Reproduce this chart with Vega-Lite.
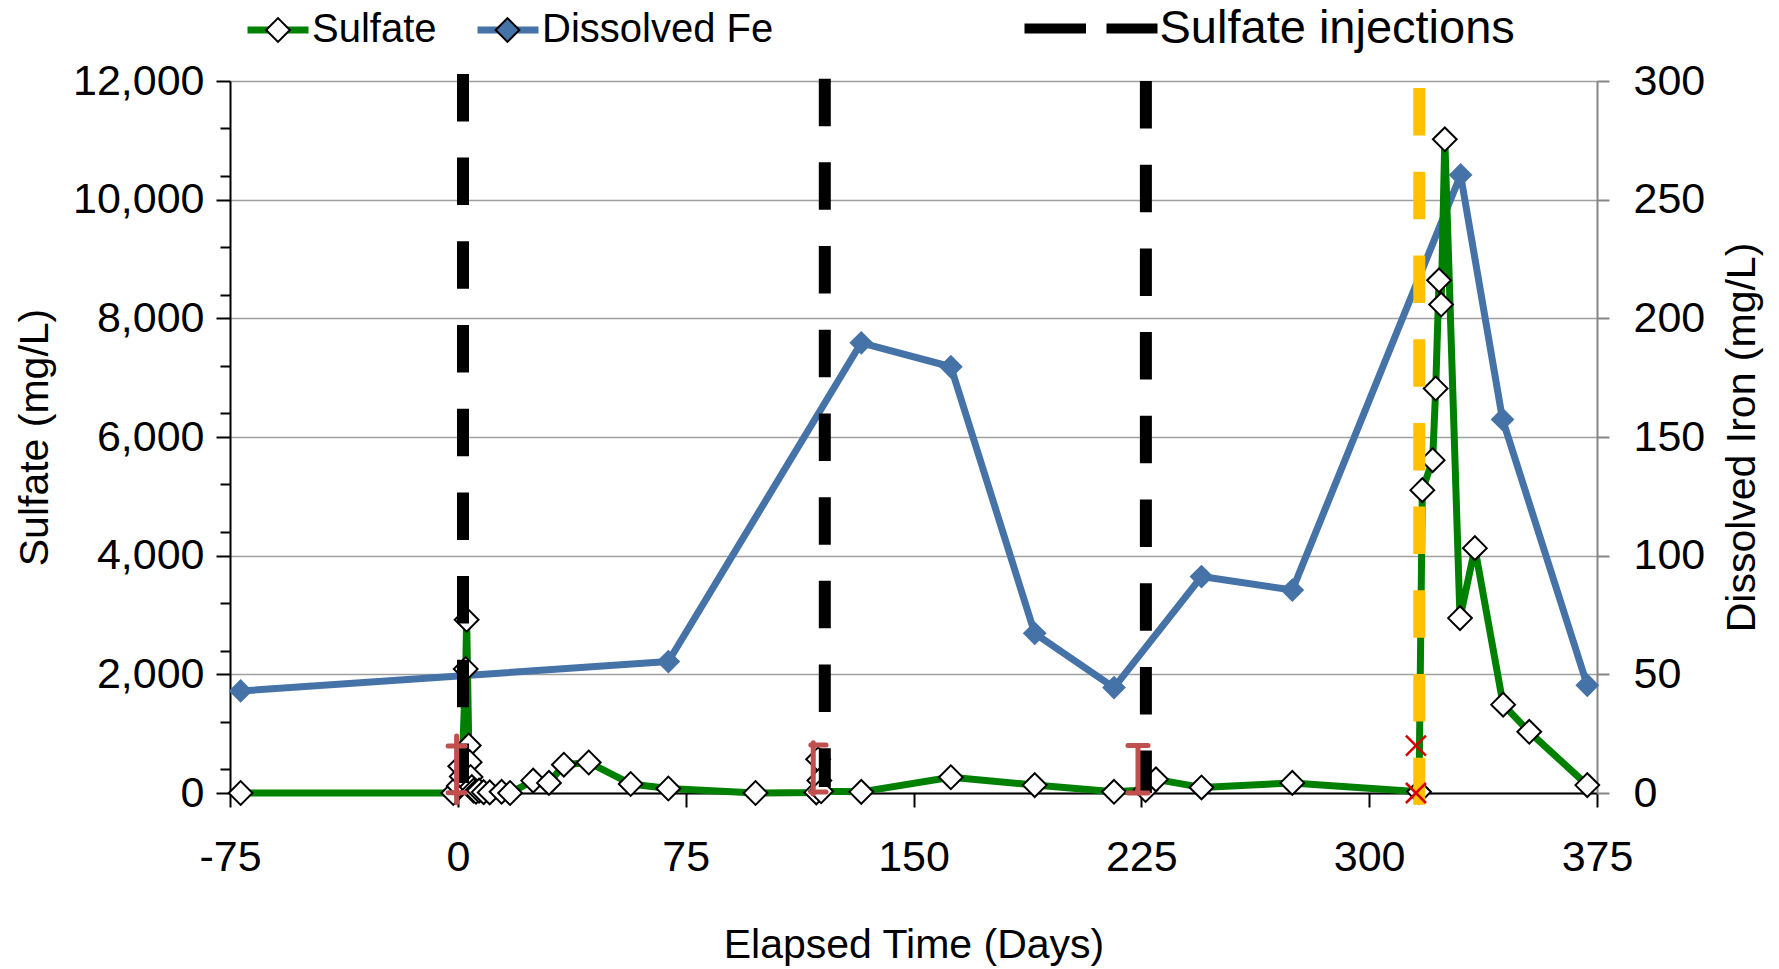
{
  "$schema": "https://vega.github.io/schema/vega-lite/v6.json",
  "width": 1367,
  "height": 712,
  "autosize": "none",
  "padding": {"left": 230, "top": 81, "right": 182, "bottom": 176},
  "background": "white",
  "config": {
    "view": {"stroke": null},
    "font": "Liberation Sans",
    "axis": {
      "labelFont": "Liberation Sans",
      "titleFont": "Liberation Sans",
      "labelColor": "black",
      "titleColor": "black",
      "titleFontWeight": "normal",
      "labelFontSize": 43,
      "titleFontSize": 41,
      "labelOverlap": false,
      "labelFlush": false
    }
  },
  "datasets": {
    "chem": [
      {"day": -71.5, "value": 0, "series": "Sulfate"},
      {"day": -1.5, "value": 0, "series": "Sulfate"},
      {"day": 0.3, "value": 120, "series": "Sulfate"},
      {"day": 0.8, "value": 450, "series": "Sulfate"},
      {"day": 1.3, "value": 280, "series": "Sulfate"},
      {"day": 2.6, "value": 2090, "series": "Sulfate"},
      {"day": 2.9, "value": 2920, "series": "Sulfate"},
      {"day": 3.6, "value": 800, "series": "Sulfate"},
      {"day": 3.9, "value": 520, "series": "Sulfate"},
      {"day": 4.2, "value": 270, "series": "Sulfate"},
      {"day": 4.6, "value": 100, "series": "Sulfate"},
      {"day": 5.2, "value": 40, "series": "Sulfate"},
      {"day": 6.0, "value": 20, "series": "Sulfate"},
      {"day": 7.0, "value": 40, "series": "Sulfate"},
      {"day": 8.5, "value": 15, "series": "Sulfate"},
      {"day": 10.5, "value": 10, "series": "Sulfate"},
      {"day": 14.4, "value": 20, "series": "Sulfate"},
      {"day": 17.2, "value": 0, "series": "Sulfate"},
      {"day": 24.8, "value": 209, "series": "Sulfate"},
      {"day": 30.0, "value": 170, "series": "Sulfate"},
      {"day": 34.9, "value": 477, "series": "Sulfate"},
      {"day": 43.1, "value": 514, "series": "Sulfate"},
      {"day": 56.9, "value": 152, "series": "Sulfate"},
      {"day": 69.3, "value": 76, "series": "Sulfate"},
      {"day": 98.0, "value": 0, "series": "Sulfate"},
      {"day": 118.0, "value": 10, "series": "Sulfate"},
      {"day": 118.6, "value": 570, "series": "Sulfate"},
      {"day": 119.0, "value": 210, "series": "Sulfate"},
      {"day": 119.6, "value": 30, "series": "Sulfate"},
      {"day": 132.8, "value": 19, "series": "Sulfate"},
      {"day": 162.3, "value": 266, "series": "Sulfate"},
      {"day": 189.9, "value": 133, "series": "Sulfate"},
      {"day": 216.0, "value": 20, "series": "Sulfate"},
      {"day": 226.4, "value": 50, "series": "Sulfate"},
      {"day": 229.8, "value": 230, "series": "Sulfate"},
      {"day": 244.8, "value": 94, "series": "Sulfate"},
      {"day": 274.7, "value": 170, "series": "Sulfate"},
      {"day": 316.4, "value": 20, "series": "Sulfate"},
      {"day": 317.5, "value": 5104, "series": "Sulfate"},
      {"day": 320.9, "value": 5610, "series": "Sulfate"},
      {"day": 321.9, "value": 6817, "series": "Sulfate"},
      {"day": 323.0, "value": 8641, "series": "Sulfate"},
      {"day": 323.7, "value": 8232, "series": "Sulfate"},
      {"day": 324.9, "value": 11017, "series": "Sulfate"},
      {"day": 329.9, "value": 2948, "series": "Sulfate"},
      {"day": 334.8, "value": 4127, "series": "Sulfate"},
      {"day": 344.1, "value": 1489, "series": "Sulfate"},
      {"day": 352.7, "value": 1031, "series": "Sulfate"},
      {"day": 371.8, "value": 133, "series": "Sulfate"},
      {"day": -71.5, "value": 43.0, "series": "Dissolved Fe"},
      {"day": 69.3, "value": 55.4, "series": "Dissolved Fe"},
      {"day": 132.8, "value": 189.7, "series": "Dissolved Fe"},
      {"day": 162.3, "value": 179.6, "series": "Dissolved Fe"},
      {"day": 189.9, "value": 67.3, "series": "Dissolved Fe"},
      {"day": 216.0, "value": 44.4, "series": "Dissolved Fe"},
      {"day": 244.8, "value": 91.2, "series": "Dissolved Fe"},
      {"day": 274.7, "value": 85.5, "series": "Dissolved Fe"},
      {"day": 330.1, "value": 260.4, "series": "Dissolved Fe"},
      {"day": 343.9, "value": 157.4, "series": "Dissolved Fe"},
      {"day": 371.8, "value": 45.4, "series": "Dissolved Fe"}
    ],
    "events": [
      {"day": 1.7, "top": 12120, "bottom": 170, "kind": "Sulfate injections"},
      {"day": 120.8, "top": 12040, "bottom": 100, "kind": "Sulfate injections"},
      {"day": 226.5, "top": 12000, "bottom": 0, "kind": "Sulfate injections"},
      {"day": 316.5, "top": 11880, "bottom": -200, "kind": "Final injection"}
    ],
    "bars": [
      {"day": -0.4, "lo": -165, "hi": 960},
      {"day": 117.0, "lo": -17, "hi": 847},
      {"day": 223.9, "lo": 0, "hi": 802}
    ],
    "caps": [
      {"from": -3.2, "to": 2.4, "value": 792},
      {"from": -3.2, "to": 2.4, "value": 5},
      {"from": 116.2, "to": 121.2, "value": 808},
      {"from": 116.2, "to": 121.2, "value": 17},
      {"from": 220.6, "to": 227.2, "value": 802},
      {"from": 220.6, "to": 227.2, "value": 0}
    ],
    "crosses": [
      {"day": 315.4, "value": 798},
      {"day": 315.4, "value": 0}
    ]
  },
  "layer": [
    {
      "layer": [
        {
          "data": {"name": "chem"},
          "transform": [{"filter": "datum.series === 'Dissolved Fe'"}],
          "mark": {"type": "line", "strokeWidth": 7, "strokeJoin": "round"},
          "encoding": {
            "x": {
              "field": "day", "type": "quantitative",
              "scale": {"domain": [-75, 375], "nice": false, "zero": false},
              "axis": {
                "values": [-75, 0, 75, 150, 225, 300, 375],
                "labelExpr": "'' + datum.value",
                "domainColor": "black", "domainWidth": 2,
                "tickColor": "black", "tickWidth": 2, "tickSize": 14,
                "labelPadding": 29, "grid": false, "labelOverlap": false,
                "title": "Elapsed Time (Days)", "titlePadding": 46
              }
            },
            "y": {
              "field": "value", "type": "quantitative",
              "scale": {"domain": [0, 300], "nice": false, "zero": false},
              "axis": {
                "orient": "right",
                "values": [0, 50, 100, 150, 200, 250, 300],
                "grid": false, "labelOverlap": false,
                "domainColor": "#868686", "domainWidth": 2,
                "tickColor": "#868686", "tickWidth": 2, "tickSize": 12,
                "labelPadding": 24,
                "title": "Dissolved Iron (mg/L)",
                "titleAngle": 270, "titleBaseline": "top", "titlePadding": 18
              }
            },
            "stroke": {
              "field": "series", "type": "nominal",
              "scale": {"range": ["#4572A7", "#008000"]},
              "legend": {
                "orient": "none", "legendX": 14, "legendY": -85,
                "direction": "horizontal", "title": null,
                "values": ["Sulfate", "Dissolved Fe"],
                "symbolType": "stroke", "symbolSize": 3721, "symbolStrokeWidth": 7,
                "labelFontSize": 40, "labelFont": "Liberation Sans", "labelColor": "black",
                "labelOffset": 0, "columnPadding": 26, "padding": 0, "labelLimit": 0,
                "zindex": 0
              }
            }
          }
        },
        {
          "data": {"name": "chem"},
          "transform": [{"filter": "datum.series === 'Dissolved Fe'"}],
          "mark": {"type": "point", "shape": "M-0.36,0L0,-0.36L0.36,0L0,0.36Z", "size": 4356, "filled": true, "stroke": "black", "strokeWidth": 2, "opacity": 1},
          "encoding": {
            "x": {"field": "day", "type": "quantitative", "scale": {"domain": [-75, 375], "nice": false, "zero": false}},
            "y": {"field": "value", "type": "quantitative", "scale": {"domain": [0, 300], "nice": false, "zero": false}},
            "fill": {
              "field": "series", "type": "nominal",
              "scale": {"domain": ["Sulfate", "Dissolved Fe"], "range": ["white", "#4572A7"]},
              "legend": {
                "orient": "none", "legendX": 14, "legendY": -85,
                "direction": "horizontal", "title": null,
                "symbolType": "M-0.36,0L0,-0.36L0.36,0L0,0.36Z", "symbolSize": 4356, "symbolStrokeWidth": 2,
                "labelFontSize": 40, "labelExpr": "''",
                "labelOffset": 0, "columnPadding": 161.5, "padding": 0, "labelLimit": 0,
                "zindex": 1
              }
            },
            "strokeOpacity": {
              "field": "series", "type": "nominal",
              "scale": {"domain": ["Sulfate", "Dissolved Fe"], "range": [1, 0]},
              "legend": {
                "orient": "none", "legendX": 14, "legendY": -85,
                "direction": "horizontal", "title": null,
                "symbolType": "M-0.36,0L0,-0.36L0.36,0L0,0.36Z", "symbolSize": 4356, "symbolStrokeWidth": 2,
                "labelFontSize": 40, "labelExpr": "''",
                "labelOffset": 0, "columnPadding": 161.5, "padding": 0, "labelLimit": 0,
                "zindex": 1
              }
            }
          }
        }
      ]
    },
    {
      "layer": [
        {
          "data": {"name": "chem"},
          "transform": [{"filter": "datum.series === 'Sulfate'"}],
          "mark": {"type": "line", "strokeWidth": 7, "strokeJoin": "round"},
          "encoding": {
            "x": {"field": "day", "type": "quantitative", "scale": {"domain": [-75, 375], "nice": false, "zero": false}},
            "y": {
              "field": "value", "type": "quantitative",
              "scale": {"domain": [0, 12000], "nice": false, "zero": false},
              "axis": {
                "orient": "left",
                "values": [0, 2000, 4000, 6000, 8000, 10000, 12000],
                "format": ",d",
                "domainColor": "black", "domainWidth": 2,
                "tickColor": "black", "tickWidth": 2, "tickSize": 14,
                "labelPadding": 12, "labelOverlap": false,
                "grid": true, "gridColor": "#a0a0a0", "gridWidth": 1.5,
                "title": "Sulfate (mg/L)", "titlePadding": 16
              }
            },
            "stroke": {
              "field": "series", "type": "nominal",
              "scale": {"range": ["#4572A7", "#008000"]},
              "legend": {
                "orient": "none", "legendX": 14, "legendY": -85,
                "direction": "horizontal", "title": null,
                "values": ["Sulfate", "Dissolved Fe"],
                "symbolType": "stroke", "symbolSize": 3721, "symbolStrokeWidth": 7,
                "labelFontSize": 40, "labelFont": "Liberation Sans", "labelColor": "black",
                "labelOffset": 0, "columnPadding": 26, "padding": 0, "labelLimit": 0,
                "zindex": 0
              }
            }
          }
        },
        {
          "data": {"name": "chem"},
          "transform": [{"filter": "datum.series === 'Sulfate'"}],
          "mark": {"type": "point", "shape": "M-0.36,0L0,-0.36L0.36,0L0,0.36Z", "size": 4356, "filled": true, "stroke": "black", "strokeWidth": 2, "opacity": 1},
          "encoding": {
            "x": {"field": "day", "type": "quantitative", "scale": {"domain": [-75, 375], "nice": false, "zero": false}},
            "y": {"field": "value", "type": "quantitative", "scale": {"domain": [0, 12000], "nice": false, "zero": false}},
            "fill": {
              "field": "series", "type": "nominal",
              "scale": {"domain": ["Sulfate", "Dissolved Fe"], "range": ["white", "#4572A7"]},
              "legend": {
                "orient": "none", "legendX": 14, "legendY": -85,
                "direction": "horizontal", "title": null,
                "symbolType": "M-0.36,0L0,-0.36L0.36,0L0,0.36Z", "symbolSize": 4356, "symbolStrokeWidth": 2,
                "labelFontSize": 40, "labelExpr": "''",
                "labelOffset": 0, "columnPadding": 161.5, "padding": 0, "labelLimit": 0,
                "zindex": 1
              }
            },
            "strokeOpacity": {
              "field": "series", "type": "nominal",
              "scale": {"domain": ["Sulfate", "Dissolved Fe"], "range": [1, 0]},
              "legend": {
                "orient": "none", "legendX": 14, "legendY": -85,
                "direction": "horizontal", "title": null,
                "symbolType": "M-0.36,0L0,-0.36L0.36,0L0,0.36Z", "symbolSize": 4356, "symbolStrokeWidth": 2,
                "labelFontSize": 40, "labelExpr": "''",
                "labelOffset": 0, "columnPadding": 161.5, "padding": 0, "labelLimit": 0,
                "zindex": 1
              }
            }
          }
        },
        {
          "data": {"name": "events"},
          "transform": [{"filter": "datum.kind === 'Sulfate injections'"}],
          "mark": {"type": "rule", "strokeWidth": 12, "strokeDash": [47.5, 36.2], "strokeCap": "butt"},
          "encoding": {
            "x": {"field": "day", "type": "quantitative", "scale": {"domain": [-75, 375], "nice": false, "zero": false}},
            "y": {"field": "top", "type": "quantitative", "scale": {"domain": [0, 12000], "nice": false, "zero": false}},
            "y2": {"field": "bottom"},
            "color": {
              "field": "kind", "type": "nominal",
              "scale": {"domain": ["Sulfate injections"], "range": ["black"]},
              "legend": {
                "orient": "none", "legendX": 789.5, "legendY": -124,
                "title": null,
                "symbolType": "stroke", "symbolSize": 17689, "symbolStrokeWidth": 10,
                "symbolDash": [61.5, 20.5],
                "labelFontSize": 47, "labelFont": "Liberation Sans", "labelColor": "black",
                "labelOffset": -3, "padding": 0, "labelLimit": 0,
                "encode": {"symbols": {"update": {"strokeDash": {"value": [61.5, 20.5]}, "strokeWidth": {"value": 10}}}}
              }
            }
          }
        },
        {
          "data": {"name": "events"},
          "transform": [{"filter": "datum.kind === 'Final injection'"}],
          "mark": {"type": "rule", "strokeWidth": 12, "strokeDash": [47.5, 36.2], "strokeCap": "butt", "color": "#FFC000"},
          "encoding": {
            "x": {"field": "day", "type": "quantitative", "scale": {"domain": [-75, 375], "nice": false, "zero": false}},
            "y": {"field": "top", "type": "quantitative", "scale": {"domain": [0, 12000], "nice": false, "zero": false}},
            "y2": {"field": "bottom"}
          }
        }
      ]
    },
    {
      "layer": [
        {
          "data": {"name": "bars"},
          "mark": {"type": "rule", "strokeWidth": 5, "strokeCap": "round", "color": "#C0504D"},
          "encoding": {
            "x": {"field": "day", "type": "quantitative", "scale": {"domain": [-75, 375], "nice": false, "zero": false}},
            "y": {
              "field": "hi", "type": "quantitative",
              "scale": {"domain": [0, 12000], "nice": false, "zero": false},
              "axis": {
                "orient": "left",
                "values": [400, 800, 1200, 1600, 2400, 2800, 3200, 3600, 4400, 4800, 5200, 5600, 6400, 6800, 7200, 7600, 8400, 8800, 9200, 9600, 10400, 10800, 11200, 11600],
                "labels": false, "domain": false, "grid": false,
                "tickColor": "black", "tickWidth": 2, "tickSize": 10,
                "title": null
              }
            },
            "y2": {"field": "lo"}
          }
        },
        {
          "data": {"name": "caps"},
          "mark": {"type": "rule", "strokeWidth": 5, "strokeCap": "round", "color": "#C0504D"},
          "encoding": {
            "x": {"field": "from", "type": "quantitative", "scale": {"domain": [-75, 375], "nice": false, "zero": false}},
            "x2": {"field": "to"},
            "y": {"field": "value", "type": "quantitative", "scale": {"domain": [0, 12000], "nice": false, "zero": false}}
          }
        },
        {
          "data": {"name": "crosses"},
          "mark": {"type": "point", "shape": "M-1,-1L1,1M-1,1L1,-1", "size": 400, "filled": false, "stroke": "#D40000", "strokeWidth": 2.5, "opacity": 1},
          "encoding": {
            "x": {"field": "day", "type": "quantitative", "scale": {"domain": [-75, 375], "nice": false, "zero": false}},
            "y": {"field": "value", "type": "quantitative", "scale": {"domain": [0, 12000], "nice": false, "zero": false}}
          }
        }
      ]
    }
  ],
  "resolve": {"scale": {"y": "independent"}, "axis": {"y": "independent"}}
}
